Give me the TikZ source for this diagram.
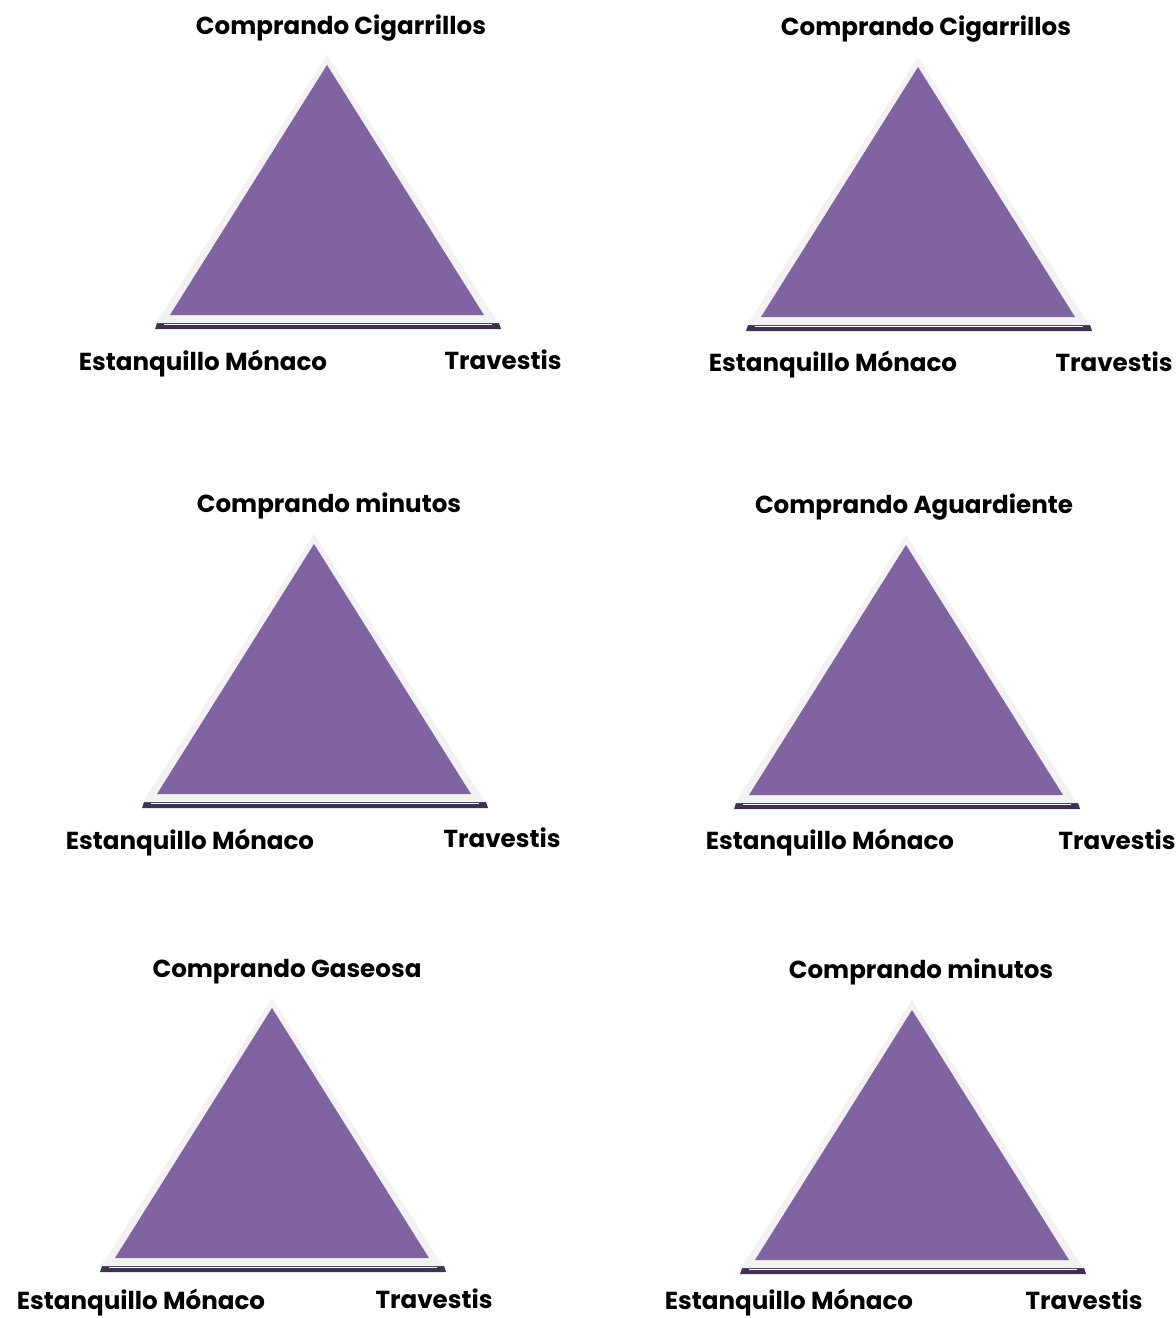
\documentclass[tikz,border=0pt]{standalone}
\usepackage{fontspec}
\setmainfont{Poppins}
\usepackage{xcolor}
\usepackage{tikz}
\usetikzlibrary{positioning,calc}
\definecolor{facepurple}{HTML}{8064A2}
\definecolor{rimgray}{HTML}{F2F2F2}
\definecolor{shadowpurple}{HTML}{403152}
\tikzset{
    every picture/.style={line join=round},
    vertexlabel/.style={font=\bfseries\fontsize{14}{16}\selectfont,text=black,
      inner sep=0pt,text height=1.7ex,text depth=0.45ex,anchor=center},
    rim/.style={fill=rimgray,draw=none},
    face/.style={fill=facepurple,draw=none},
    baseshadow/.style={fill=shadowpurple,draw=none}
}
\begin{document}
\begin{tikzpicture}[x=0.02cm,y=-0.02cm]
  \useasboundingbox (0,0) rectangle (1176,1318);
  % apex x / base y / title, left and right label positions / title
  \foreach \ax/\by/\tx/\ty/\lx/\ly/\rx/\ry/\what [count=\i] in {
      327/323/341/28/203/364/503/363/Comprando Cigarrillos,
      918/325/926/29/833/365/1114/365/Comprando Cigarrillos,
      314/802/329/506/190/843/502/841/Comprando minutos,
      906/803/914/507/830/843/1117/843/Comprando Aguardiente,
      272/1266/287/971/141/1303/434/1302/Comprando Gaseosa,
      912/1268/921/972/789/1303/1084/1303/Comprando minutos} {
    \fill[baseshadow] (\ax-170,\by) -- (\ax+172,\by) -- (\ax+174,\by+6)
      -- (\ax-172,\by+6) -- cycle;
    \fill[rim] (\ax,\by-268) -- (\ax+171,\by) -- (\ax-171,\by) -- cycle;
    \draw[white,line width=0.5pt] (\ax-163,\by+1.2) -- (\ax+165,\by+1.2);
    \fill[face] (\ax,\by-258) -- (\ax+157,\by-8) -- (\ax-157,\by-8) -- cycle;
    \node[vertexlabel] (title\i) at (\tx,\ty) {\what};
    \node[vertexlabel] (left\i) at (\lx,\ly) {Estanquillo Mónaco};
    \node[vertexlabel] (right\i) at (\rx,\ry) {Travestis};
  }
\end{tikzpicture}
\end{document}
